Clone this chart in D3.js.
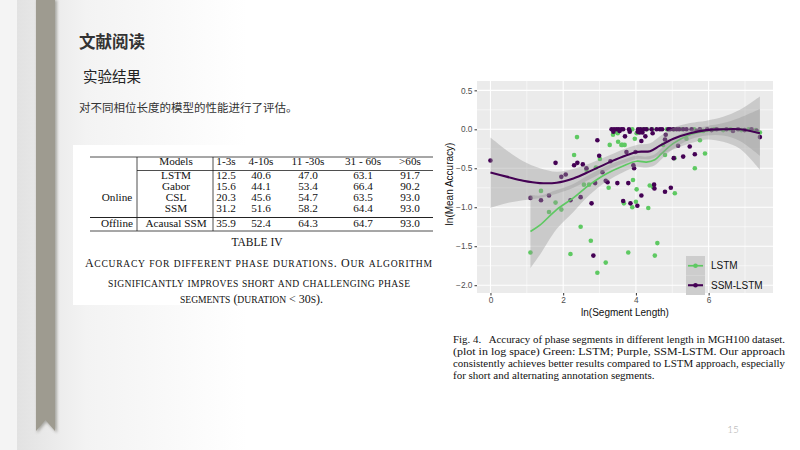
<!DOCTYPE html>
<html><head><meta charset="utf-8">
<script src="https://cdn.jsdelivr.net/npm/d3@7"></script>
<style>body{margin:0;background:#fff;} svg{display:block}</style>
</head><body>
<svg id="s" width="800" height="450"></svg>
<script>
// ---------------- data ----------------
const tableColumns = ["Models", "1-3s", "4-10s", "11 -30s", "31 - 60s", ">60s"];
const tableGroups = ["Online", "Offline"];
const tableModels = ["LSTM", "Gabor", "CSL", "SSM", "Acausal SSM"];
const tableValues = [
  ["12.5", "40.6", "47.0", "63.1", "91.7"],
  ["15.6", "44.1", "53.4", "66.4", "90.2"],
  ["20.3", "45.6", "54.7", "63.5", "93.0"],
  ["31.2", "51.6", "58.2", "64.4", "93.0"],
  ["35.9", "52.4", "64.3", "64.7", "93.0"]
];
const seriesNames = ["LSTM", "SSM-LSTM"];
const lstmX = [1.10,1.39,1.61,1.79,1.95,2.20,2.30,2.38,2.48,2.57,2.64,2.71,2.76,2.90,2.94,3.01,3.17,3.25,3.28,3.37,3.50,3.51,3.60,3.63,3.67,3.79,3.90,3.92,4.02,4.02,4.00,4.14,4.34,4.38,4.47,4.52,4.59,4.75,4.80,5.06,5.07,5.39,5.62,5.76,5.90,3.97,3.69,7.41,
  3.45,3.90,4.20,4.30,4.45,4.85,5.05,5.25,5.60,5.85,6.15,6.40,6.60,6.90,7.10,7.30];
const lstmY = [-1.58,-0.79,-1.06,-0.94,-1.03,-1.60,-0.33,-0.10,-1.25,-0.71,-0.52,-0.71,-1.43,-0.49,-1.84,-0.38,-1.71,-0.75,-0.20,-0.07,-0.05,-0.16,-0.20,-0.20,-0.95,-1.58,-1.00,-0.65,-0.05,-0.77,-0.93,-0.01,-1.01,-0.72,-0.74,-1.62,-1.46,-0.20,-0.33,-0.37,-0.82,-0.12,-0.50,-0.14,-0.31,-0.12,-0.20,-0.04,
  -0.03,0,0,0,0,0,0,0,0,-0.02,0,-0.01,0,-0.01,0,-0.01];
const ssmX = [0.00,1.10,1.39,1.61,1.79,1.95,2.07,2.20,2.30,2.39,2.54,2.48,2.64,2.78,2.83,2.94,2.99,2.88,3.08,3.17,3.22,3.30,3.49,3.65,3.79,3.85,3.93,3.95,4.04,4.15,4.15,4.18,4.50,4.51,4.80,4.96,5.04,5.16,5.30,5.48,5.62,3.74,3.99,3.70,4.26,3.83,4.10,4.46,4.82,4.80,7.41,
  3.33,3.40,3.47,3.53,3.60,3.65,3.81,4.06,4.13,4.22,4.29,4.43,4.57,4.66,4.72,4.89,4.94,5.03,5.12,5.19,5.30,5.39,5.53,5.76,5.96,6.22,6.49,6.81,7.18,
  3.38,3.55,4.05,5.67,6.08,6.67,6.99,7.32];
const ssmY = [-0.40,-0.88,-0.91,-0.85,-0.43,-0.61,-0.58,-0.91,-0.46,-0.43,-0.45,-0.87,-0.50,-0.95,-1.62,-0.14,-0.34,-0.69,-0.55,-0.66,-0.68,-0.41,-0.69,-0.92,-0.69,-0.95,-0.46,-0.50,-0.98,-0.85,-0.15,-0.04,-0.71,-0.76,-0.80,-0.75,-0.37,-0.21,-0.35,-0.22,-0.32,-0.29,-0.29,-0.09,-0.09,-0.03,-0.04,-0.05,-0.07,-0.13,-0.10,
  0,0,0,0,0,0,0,0,0,0,0,0,0,0,0,0,0,0,0,0,0,0,0,0,0,0,0,0,0,
  -0.03,-0.02,-0.03,-0.02,-0.01,-0.02,-0.01,-0.02];
const lstmSmoothX = [1.10,1.36,1.82,2.28,2.73,3.19,3.65,4.02,4.29,4.52,4.71,5.03,5.49,5.94,6.40,6.86,7.41];
const lstmFit =     [-1.31,-1.23,-1.03,-0.88,-0.71,-0.57,-0.47,-0.41,-0.42,-0.39,-0.31,-0.18,-0.07,-0.02,0.0,0.0,-0.04];
const lstmSe =      [0.47,0.38,0.25,0.18,0.13,0.10,0.08,0.07,0.07,0.07,0.07,0.07,0.06,0.06,0.08,0.15,0.30];
const ssmSmoothX = [0,0.44,0.90,1.36,1.82,2.28,2.73,3.19,3.65,4.02,4.39,4.66,5.03,5.49,5.94,6.40,6.86,7.41];
const ssmFit =     [-0.555,-0.607,-0.66,-0.69,-0.685,-0.63,-0.54,-0.44,-0.35,-0.29,-0.28,-0.21,-0.12,-0.05,-0.01,0.0,0.0,-0.05];
const ssmSe =      [0.45,0.34,0.25,0.19,0.14,0.12,0.10,0.09,0.09,0.09,0.10,0.12,0.14,0.13,0.12,0.16,0.25,0.47];
const xTicks = [0, 2, 4, 6];
const xMinor = [1, 3, 5, 7];
const yTicks = [0.5, 0, -0.5, -1, -1.5, -2];
const yMinor = [0.25, -0.25, -0.75, -1.25, -1.75];

// ---------------- drawing ----------------
const svg = d3.select("#s");
const defs = svg.append("defs");
const g1 = defs.append("linearGradient").attr("id", "bg").attr("x1", 0).attr("x2", 1).attr("y1", 0).attr("y2", 0);
g1.append("stop").attr("offset", "0").attr("stop-color", "#e2e2e2");
g1.append("stop").attr("offset", "0.3").attr("stop-color", "#f3f3f3");
g1.append("stop").attr("offset", "1").attr("stop-color", "#ffffff");
const sh = defs.append("filter").attr("id", "sh").attr("x", "-50%").attr("width", "200%");
sh.append("feGaussianBlur").attr("stdDeviation", 1.6);

svg.append("rect").attr("width", 800).attr("height", 450).attr("fill", "#fff");
svg.append("rect").attr("x", 17).attr("width", 230).attr("height", 450).attr("fill", "url(#bg)");
svg.append("rect").attr("x", 0).attr("width", 17).attr("height", 450).attr("fill", "#f4f4f4");
// ribbon bookmark
svg.append("path").attr("d", "M37,0 L57,0 L57,433 L46.5,422 L37,433 Z").attr("fill", "#7c7a72").attr("opacity", 0.6).attr("filter", "url(#sh)");
svg.append("path").attr("d", "M36,0 L55,0 L55,431 L45.5,420 L36,431 Z").attr("fill", "#9e9b90");

// titles
svg.append("text").attr("x", 79).attr("y", 48).text("文献阅读")
  .attr("font-family", "Noto Sans CJK SC").attr("font-weight", "bold").attr("font-size", 16.5).attr("fill", "#333");
svg.append("text").attr("x", 83).attr("y", 82).text("实验结果")
  .attr("font-family", "Noto Sans CJK SC").attr("font-size", 14.5).attr("fill", "#222");
svg.append("text").attr("x", 79).attr("y", 112).text("对不同相位长度的模型的性能进行了评估。")
  .attr("font-family", "Noto Sans CJK SC").attr("font-size", 11.5).attr("fill", "#333");

// ---------------- table ----------------
const tb = svg.append("g").attr("font-family", "Liberation Serif, Times New Roman, serif").attr("font-size", 11.2).attr("fill", "#111");
tb.append("rect").attr("x", 73).attr("y", 145).attr("width", 380).attr("height", 160).attr("fill", "#fff");
const colX = [176, 226, 261, 308, 363, 410];
const rowY = [178.5, 189.5, 200.5, 211.5, 226.8];
const lineC = "#222";
function hl(x1, x2, y, w) { tb.append("line").attr("x1", x1).attr("x2", x2).attr("y1", y).attr("y2", y).attr("stroke", lineC).attr("stroke-width", w || 0.8); }
function vl(x, y1, y2) { tb.append("line").attr("x1", x).attr("x2", x).attr("y1", y1).attr("y2", y2).attr("stroke", lineC).attr("stroke-width", 0.8); }
hl(90, 433, 157); hl(137, 433, 170.5); hl(90, 433, 217.5, 1.1); hl(90, 433, 231);
vl(137, 157, 231); vl(213, 157, 231);
tableColumns.forEach((c, i) => tb.append("text").attr("x", colX[i]).attr("y", 164.8).attr("text-anchor", "middle").text(c));
tableModels.forEach((m, r) => {
  tb.append("text").attr("x", colX[0]).attr("y", rowY[r]).attr("text-anchor", "middle").text(m);
  tableValues[r].forEach((v, c) => tb.append("text").attr("x", colX[c + 1]).attr("y", rowY[r]).attr("text-anchor", "middle").text(v));
});
tb.append("text").attr("x", 117).attr("y", 201).attr("text-anchor", "middle").text(tableGroups[0]);
tb.append("text").attr("x", 117).attr("y", rowY[4]).attr("text-anchor", "middle").text(tableGroups[1]);
tb.append("text").attr("x", 257).attr("y", 246).attr("text-anchor", "middle").attr("font-size", 11.5).text("TABLE IV");
const capLines = [
  ["Accuracy for different phase durations. Our algorithm", 85, 347, 267],
  ["significantly improves short and challenging phase", 108, 302, 286.5],
  ["segments (duration < 30s).", 180, 143, 303]
];
function smallCaps(textEl, str) {
  const runs = [];
  for (const ch of str) {
    const small = ch !== ch.toUpperCase();
    if (runs.length && runs[runs.length - 1].small === small) runs[runs.length - 1].t += ch;
    else runs.push({ small, t: ch });
  }
  runs.forEach(r => textEl.append("tspan").attr("font-size", r.small ? 9.6 : 12).text(r.small ? r.t.toUpperCase() : r.t));
}
capLines.forEach(([t, x, w, y]) => {
  const te = tb.append("text").attr("x", x).attr("y", y).attr("textLength", w).attr("lengthAdjust", "spacing");
  smallCaps(te, t);
});

// ---------------- chart ----------------
const P = { l: 477, r: 773, t: 81, b: 293 };
const x = d3.scaleLinear().domain([-0.37, 7.77]).range([P.l, P.r]);
const y = d3.scaleLinear().domain([-2.1, 0.62]).range([P.b, P.t]);
const ch = svg.append("g").attr("font-family", "Liberation Sans, Arial, sans-serif");
defs.append("clipPath").attr("id", "pc").append("rect").attr("x", P.l).attr("y", P.t).attr("width", P.r - P.l).attr("height", P.b - P.t);
ch.append("rect").attr("x", P.l).attr("y", P.t).attr("width", P.r - P.l).attr("height", P.b - P.t).attr("fill", "#ebebeb");
const grid = ch.append("g").attr("stroke", "#fff");
xMinor.forEach(v => grid.append("line").attr("x1", x(v)).attr("x2", x(v)).attr("y1", P.t).attr("y2", P.b).attr("stroke-width", 0.55));
yMinor.forEach(v => grid.append("line").attr("y1", y(v)).attr("y2", y(v)).attr("x1", P.l).attr("x2", P.r).attr("stroke-width", 0.55));
xTicks.forEach(v => grid.append("line").attr("x1", x(v)).attr("x2", x(v)).attr("y1", P.t).attr("y2", P.b).attr("stroke-width", 1.1));
yTicks.forEach(v => grid.append("line").attr("y1", y(v)).attr("y2", y(v)).attr("x1", P.l).attr("x2", P.r).attr("stroke-width", 1.1));

const GREEN = "#5ec962", PURPLE = "#440154";
const plot = ch.append("g").attr("clip-path", "url(#pc)");
plot.selectAll(".pg").data(lstmX.map((v, i) => [v, lstmY[i]])).join("circle")
  .attr("cx", d => x(d[0])).attr("cy", d => y(d[1])).attr("r", 2.3).attr("fill", GREEN);
plot.selectAll(".pp").data(ssmX.map((v, i) => [v, ssmY[i]])).join("circle")
  .attr("cx", d => x(d[0])).attr("cy", d => y(d[1])).attr("r", 2.3).attr("fill", PURPLE);

function smooth(xs, fit, se, col, w) {
  const d = xs.map((v, i) => ({ x: v, f: fit[i], s: se[i] }));
  plot.append("path").datum(d).attr("fill", "#999").attr("fill-opacity", 0.4)
    .attr("d", d3.area().x(p => x(p.x)).y0(p => y(p.f - p.s)).y1(p => y(p.f + p.s)).curve(d3.curveCatmullRom.alpha(0.5)));
  plot.append("path").datum(d).attr("fill", "none").attr("stroke", col).attr("stroke-width", w)
    .attr("d", d3.line().x(p => x(p.x)).y(p => y(p.f)).curve(d3.curveCatmullRom.alpha(0.5)));
}
smooth(lstmSmoothX, lstmFit, lstmSe, GREEN, 1.7);
smooth(ssmSmoothX, ssmFit, ssmSe, PURPLE, 2.1);

// axes
const ya = ch.append("g").attr("transform", `translate(${P.l},0)`)
  .call(d3.axisLeft(y).tickValues(yTicks).tickSize(2.5).tickPadding(2).tickFormat(d3.format(".1f")));
const xa = ch.append("g").attr("transform", `translate(0,${P.b})`)
  .call(d3.axisBottom(x).tickValues(xTicks).tickSize(2.5).tickPadding(2).tickFormat(d3.format("d")));
[ya, xa].forEach(a => {
  a.select(".domain").remove();
  a.selectAll("line").attr("stroke", "#333");
  a.selectAll("text").attr("fill", "#4d4d4d").attr("font-size", 8.3).attr("font-family", "Liberation Sans, Arial, sans-serif");
});
ch.append("text").attr("x", 625).attr("y", 316).attr("text-anchor", "middle").attr("font-size", 10).attr("fill", "#111").text("ln(Segment Length)");
ch.append("text").attr("transform", "translate(453,184) rotate(-90)").attr("text-anchor", "middle").attr("font-size", 10).attr("fill", "#111").text("ln(Mean Accuracy)");

// legend
const lg = ch.append("g");
const legCols = [GREEN, PURPLE];
seriesNames.forEach((n, i) => {
  const ky = 256 + i * 19.5;
  lg.append("rect").attr("x", 686).attr("y", ky).attr("width", 19).attr("height", 19.5).attr("fill", "#cdcdcd");
  lg.append("line").attr("x1", 688).attr("x2", 703).attr("y1", ky + 9.75).attr("y2", ky + 9.75).attr("stroke", legCols[i]).attr("stroke-width", i ? 2.1 : 1.7);
  lg.append("circle").attr("cx", 695.5).attr("cy", ky + 9.75).attr("r", 2.3).attr("fill", legCols[i]);
  lg.append("text").attr("x", 711).attr("y", ky + 13.3).attr("font-size", 10).attr("fill", "#111").text(n);
});

// figure caption
const fc = svg.append("g").attr("font-family", "Liberation Serif, Times New Roman, serif").attr("font-size", 11).attr("fill", "#111");
const figLines = [
  ["Fig. 4.\u2002 Accuracy of phase segments in different length in MGH100 dataset.", 332, 342.5],
  ["(plot in log space) Green: LSTM; Purple, SSM-LSTM. Our approach", 332, 355],
  ["consistently achieves better results compared to LSTM approach, especially", 332, 367],
  ["for short and alternating annotation segments.", null, 379]
];
figLines.forEach(([t, w, yy]) => {
  const tx = fc.append("text").attr("x", 453).attr("y", yy).text(t);
  if (w) tx.attr("textLength", w).attr("lengthAdjust", "spacingAndGlyphs");
});
svg.append("text").attr("x", 733).attr("y", 433).attr("text-anchor", "middle").attr("font-family", "Lato, sans-serif")
  .attr("font-size", 10).attr("font-weight", 300).attr("fill", "#aaa").text("15");
</script>
</body></html>
